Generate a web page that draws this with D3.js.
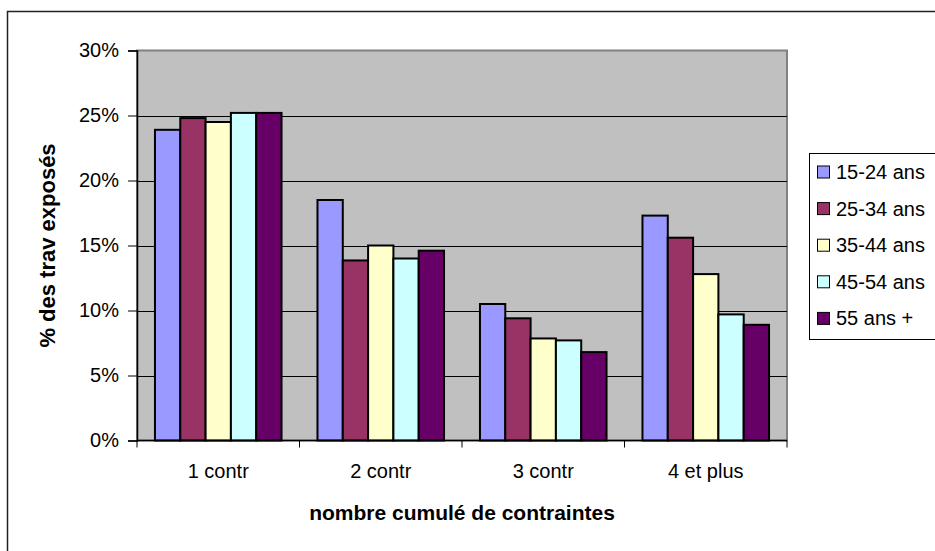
<!DOCTYPE html>
<html>
<head>
<meta charset="utf-8">
<script src="https://cdn.jsdelivr.net/npm/d3@7"></script>
<style>
  body { margin: 0; background: #fff; }
  text { font-family: Arial, "Liberation Sans", sans-serif; fill: #000; }
</style>
</head>
<body>
<script>
// data
var categories = ["1 contr", "2 contr", "3 contr", "4 et plus"];
var series = ["15-24 ans", "25-34 ans", "35-44 ans", "45-54 ans", "55 ans +"];
var colors = ["#9999ff", "#993366", "#ffffcc", "#ccffff", "#660066"];
// one array per age group, values in % for each category
var v1524 = [23.9, 18.5, 10.5, 17.3];
var v2534 = [24.8, 13.85, 9.4, 15.6];
var v3544 = [24.5, 15.0, 7.85, 12.8];
var v4554 = [25.2, 14.0, 7.7, 9.7];
var v55 = [25.2, 14.6, 6.8, 8.9];
var values = [v1524, v2534, v3544, v4554, v55];
var yTicks = [0, 5, 10, 15, 20, 25, 30];

var W = 935, H = 551;
var plot = { left: 137, right: 787, top: 50.5, bottom: 440.5 };

var svg = d3.select("body").append("svg")
  .attr("width", W)
  .attr("height", H);

// chart border
svg.append("rect")
  .attr("x", 7.5).attr("y", 11.5)
  .attr("width", 1000).attr("height", 1000)
  .attr("fill", "#fff")
  .attr("stroke", "#222")
  .attr("stroke-width", 1.5);

var x0 = d3.scaleBand()
  .domain(categories)
  .range([plot.left, plot.right])
  .padding(0);

var x1 = d3.scaleBand()
  .domain(series)
  .range([0, x0.bandwidth()])
  .paddingInner(0)
  .paddingOuter(0.71);

var y = d3.scaleLinear()
  .domain([0, 30])
  .range([plot.bottom, plot.top]);

// plot area
svg.append("rect")
  .attr("x", plot.left).attr("y", plot.top)
  .attr("width", plot.right - plot.left)
  .attr("height", plot.bottom - plot.top)
  .attr("fill", "#c0c0c0")
  .attr("stroke", "#808080")
  .attr("stroke-width", 2);

// gridlines
svg.append("g")
  .selectAll("line")
  .data(yTicks.slice(1, -1))
  .enter().append("line")
  .attr("x1", plot.left).attr("x2", plot.right)
  .attr("y1", function (d) { return Math.round(y(d)) + 0.5; })
  .attr("y2", function (d) { return Math.round(y(d)) + 0.5; })
  .attr("stroke", "#000")
  .attr("stroke-width", 1);

// bars
var groups = svg.append("g")
  .selectAll("g")
  .data(categories)
  .enter().append("g")
  .attr("transform", function (d) { return "translate(" + x0(d) + ",0)"; });

groups.selectAll("rect")
  .data(function (c, ci) {
    return series.map(function (s, si) { return { s: s, i: si, v: values[si][ci] }; });
  })
  .enter().append("rect")
  .attr("x", function (d) { return x1(d.s); })
  .attr("y", function (d) { return y(d.v); })
  .attr("width", x1.bandwidth())
  .attr("height", function (d) { return y(0) - y(d.v); })
  .attr("fill", function (d) { return colors[d.i]; })
  .attr("stroke", "#000")
  .attr("stroke-width", 2);

// y axis
var yAxis = d3.axisLeft(y)
  .tickValues(yTicks)
  .tickSize(9)
  .tickPadding(9)
  .tickFormat(function (d) { return d + "%"; });

var gy = svg.append("g")
  .attr("transform", "translate(" + plot.left + ",0)")
  .call(yAxis);
gy.select(".domain").attr("stroke", "#000").attr("stroke-width", 1.5);
gy.selectAll(".tick line").attr("stroke", "#000");
gy.selectAll("text").style("font-size", "20px").attr("fill", "#000");

// x axis: ticks on group boundaries, labels in the middle
var gx = svg.append("g");
gx.append("line")
  .attr("x1", plot.left).attr("x2", plot.right)
  .attr("y1", plot.bottom).attr("y2", plot.bottom)
  .attr("stroke", "#000").attr("stroke-width", 1.5);
var bounds = categories.map(function (c) { return x0(c); }).concat([x0(categories[3]) + x0.bandwidth()]);
gx.selectAll(".xt")
  .data(bounds)
  .enter().append("line")
  .attr("class", "xt")
  .attr("x1", function (d) { return d; }).attr("x2", function (d) { return d; })
  .attr("y1", plot.bottom).attr("y2", plot.bottom + 7)
  .attr("stroke", "#000");
gx.selectAll("text")
  .data(categories)
  .enter().append("text")
  .attr("x", function (d) { return x0(d) + x0.bandwidth() / 2; })
  .attr("y", 478)
  .attr("text-anchor", "middle")
  .style("font-size", "20px")
  .text(function (d) { return d; });

// axis titles
svg.append("text")
  .attr("x", (plot.left + plot.right) / 2)
  .attr("y", 520)
  .attr("text-anchor", "middle")
  .style("font-size", "21px")
  .style("font-weight", "bold")
  .text("nombre cumulé de contraintes");

svg.append("text")
  .attr("transform", "translate(55," + ((plot.top + plot.bottom) / 2) + ") rotate(-90)")
  .attr("text-anchor", "middle")
  .style("font-size", "22px")
  .style("font-weight", "bold")
  .text("% des trav exposés");

// legend
var legend = svg.append("g");
legend.append("rect")
  .attr("x", 809.5).attr("y", 153.5)
  .attr("width", 200).attr("height", 186)
  .attr("fill", "#fff")
  .attr("stroke", "#000")
  .attr("stroke-width", 1);

var li = legend.selectAll(".li")
  .data(series)
  .enter().append("g")
  .attr("class", "li")
  .attr("transform", function (d, i) { return "translate(0," + (172 + i * 36.6) + ")"; });
li.append("rect")
  .attr("x", 817.5).attr("y", -6)
  .attr("width", 12).attr("height", 12)
  .attr("fill", function (d, i) { return colors[i]; })
  .attr("stroke", "#000")
  .attr("stroke-width", 1);
li.append("text")
  .attr("x", 836)
  .attr("y", 7)
  .style("font-size", "20px")
  .text(function (d) { return d; });
</script>
</body>
</html>
